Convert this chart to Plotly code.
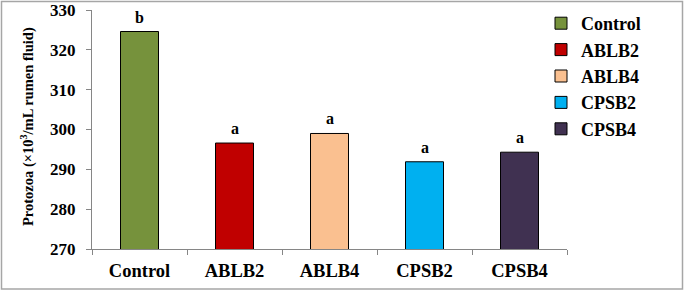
import plotly.graph_objects as go

categories = ["Control", "ABLB2", "ABLB4", "CPSB2", "CPSB4"]
values = [324.6, 296.6, 299.0, 291.9, 294.3]
letters = ["b", "a", "a", "a", "a"]
colors = ["#76923C", "#C00000", "#FAC090", "#00B0F0", "#403151"]
y_ticks = [270, 280, 290, 300, 310, 320, 330]
y_title = "Protozoa (×10<sup>3</sup>/mL rumen fluid)"

SERIF = "Liberation Serif, Times New Roman, serif"

fig = go.Figure()
for cat, val, col in zip(categories, values, colors):
    fig.add_trace(go.Bar(
        x=[cat], y=[val], name="<b>%s</b>" % cat, width=0.4,
        marker=dict(color=col, line=dict(color="#000000", width=1)),
    ))

for cat, val, let in zip(categories, values, letters):
    fig.add_annotation(x=cat, y=val, text="<b>%s</b>" % let, showarrow=False,
                       yanchor="bottom", yshift=4,
                       font=dict(family=SERIF, size=16, color="#000000"))

W, H = 685, 291
L, R, T, B = 92, 118, 10, 42
pw, ph = W - L - R, H - T - B

def px_x(p):
    return (p - L) / pw

def px_y(p):
    return 1 - (p - T) / ph

fig.add_annotation(xref="paper", yref="paper", x=px_x(27), y=px_y(127),
                   text="<b>%s</b>" % y_title, textangle=-90, showarrow=False,
                   xanchor="center", yanchor="middle",
                   font=dict(family=SERIF, size=14.5, color="#000000"))

fig.add_shape(type="rect", xref="paper", yref="paper",
              x0=px_x(1.5), x1=px_x(682.5), y0=px_y(289), y1=px_y(1.5),
              line=dict(color="#A6A6A6", width=1.5), layer="below")

fig.update_layout(
    template="none",
    width=W, height=H,
    margin=dict(l=L, r=R, t=T, b=B, autoexpand=False),
    paper_bgcolor="white", plot_bgcolor="white",
    barmode="overlay",
    showlegend=True,
    legend=dict(x=px_x(541), y=px_y(5), xanchor="left", yanchor="top",
                font=dict(family=SERIF, size=18, color="#000000"),
                bgcolor="rgba(0,0,0,0)", tracegroupgap=0),
    font=dict(family=SERIF, color="#000000"),
)

fig.update_xaxes(
    type="category", tickson="boundaries", ticks="outside", ticklen=5,
    tickcolor="#868686", showline=True, linecolor="#868686", linewidth=1,
    tickfont=dict(family=SERIF, size=18.5, color="#000000"),
    ticktext=["<b>%s</b>" % c for c in categories], tickvals=categories,
    ticklabelstandoff=5,
    showgrid=False, zeroline=False, automargin=False,
)
fig.update_yaxes(
    range=[270, 330], tickvals=y_ticks,
    ticktext=["<b>%d</b>" % v for v in y_ticks],
    ticks="outside", ticklen=5, tickcolor="#868686",
    showline=True, linecolor="#868686", linewidth=1,
    tickfont=dict(family=SERIF, size=17, color="#000000"),
    ticklabelstandoff=7,
    showgrid=False, zeroline=False, automargin=False,
)

fig.write_html("out.html", config={"displayModeBar": False},
               post_script="document.body.style.margin='0';document.body.style.padding='0';")
